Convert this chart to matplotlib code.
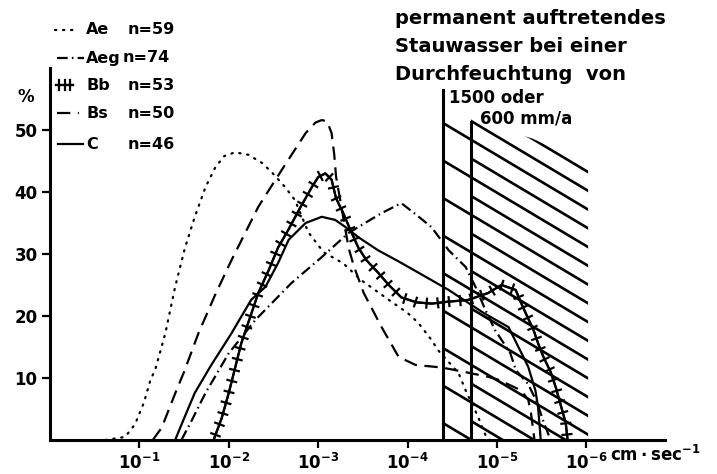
import numpy as np
import matplotlib
matplotlib.use("Agg")
from matplotlib import pyplot as plt
from matplotlib import patheffects
from matplotlib.patches import Polygon

plt.rcParams['font.family'] = 'DejaVu Sans'
plt.rcParams['font.weight'] = 'bold'
plt.rcParams['mathtext.fontset'] = 'dejavusans'
plt.rcParams['mathtext.default'] = 'bf'

# log10 of permeability (cm/sec) and frequency in %
ae_logk = [-0.62, -0.84, -0.95, -1.05, -1.12, -1.18, -1.29, -1.40, -1.51, -1.62, -1.74, -1.85,
           -1.95, -2.07, -2.22, -2.37, -2.48, -2.63, -2.74, -2.89, -3.06, -3.28, -3.48, -3.79,
           -4.00, -4.12, -4.27, -4.34, -4.57, -4.65, -4.79, -4.88, -4.92]
ae_pct = [0, 0.5, 2.5, 6, 9.5, 11.5, 17.2, 24.7, 31, 36, 40.8, 44,
          45.8, 46.4, 46, 44.7, 43.2, 40.8, 38.7, 33.5, 30.3, 28.5, 25.8, 22.6,
          20.5, 18.9, 16.1, 14.5, 10.8, 8, 3.7, 0.5, 0]

aeg_logk = [-1.47, -1.58, -1.66, -1.74, -2.00, -2.30, -2.70, -3.04, -3.34, -3.71, -3.93, -4.10,
            -4.27, -4.46, -4.65, -4.76, -4.87, -4.98, -5.15, -5.21, -5.35, -5.45, -5.52, -5.60]
aeg_pct = [0, 3, 5.3, 7.6, 14, 19.4, 25.3, 29.5, 33.4, 36.6, 38.2, 36.3,
           34.3, 30.6, 27.9, 24.7, 21, 17.7, 14, 11.3, 9, 6, 3, 0]

bb_logk = [-1.83, -1.92, -2.00, -2.14, -2.33, -2.45, -2.55, -2.67, -2.80, -2.93, -3.00, -3.08,
           -3.15, -3.20, -3.28, -3.36, -3.45, -3.54, -3.67, -3.79, -3.93, -4.10, -4.27, -4.45,
           -4.68, -4.90, -5.05, -5.21, -5.27, -5.33, -5.41, -5.46, -5.52, -5.60, -5.66, -5.72,
           -5.77, -5.79]
bb_pct = [0, 3.5, 7.6, 15.6, 23.7, 27.5, 31, 34, 37.5, 40.8, 42.4, 43,
          42, 39, 36.6, 33.9, 31, 29, 27, 25, 23, 22.2, 22, 22.3,
          22.6, 23.7, 25, 24.2, 22.1, 20.2, 17.7, 15.6, 13.4, 11, 8.4, 5.3,
          2.7, 0]

bs_logk = [-1.15, -1.25, -1.40, -1.50, -1.66, -1.85, -2.03, -2.33, -2.59, -2.86, -2.97, -3.04,
           -3.10, -3.15, -3.18, -3.20, -3.26, -3.34, -3.40, -3.51, -3.71, -3.90, -4.09, -4.38,
           -4.63, -4.90, -5.02, -5.27, -5.35, -5.38, -5.42]
bs_pct = [0, 2, 7.5, 11, 17.2, 23.5, 29, 37.6, 43.5, 49.5, 51.2, 51.6,
          51.4, 49.5, 46, 42.5, 37.6, 31, 28, 23.7, 18.2, 13.4, 12.1, 11.7,
          11, 10.2, 9.7, 8, 6.5, 4.4, 0]

c_logk = [-1.40, -1.50, -1.62, -1.80, -2.03, -2.25, -2.41, -2.55, -2.67, -2.86, -3.04, -3.19,
          -3.30, -3.45, -3.67, -3.90, -4.12, -4.46, -4.85, -5.13, -5.24, -5.35, -5.43, -5.46,
          -5.49]
c_pct = [0, 3.5, 7.6, 12, 17.2, 22.6, 24.7, 28.5, 32.3, 35, 36, 35.5,
         34.4, 32.7, 30.6, 28.8, 27, 24.2, 20.5, 18.2, 15, 11.8, 8, 5.3,
         0]

names = ["Ae", "Aeg", "Bb", "Bs", "C"]
counts = ["n=59", "n=74", "n=53", "n=50", "n=46"]
tick_exp = [-1, -2, -3, -4, -5, -6]

# Stauwasser limits (log10 cm/sec) for 1500 and 600 mm/a
limit_1500 = -4.40
limit_600 = -4.71

W, H = 717, 474
fig = plt.figure(figsize=(W / 100, H / 100), dpi=100)
ax = fig.add_axes([50 / W, 34 / H, 615 / W, 372 / H])

lw = 1.6
ticked = [patheffects.withTickedStroke(spacing=8, angle=90, length=0.4),
          patheffects.withTickedStroke(spacing=8, angle=-90, length=0.4)]
styles = [dict(ls=(0, (0.6, 3.0)), dash_capstyle='round'),
          dict(ls=(0, (4.8, 1.9, 0.7, 1.9))),
          dict(ls='-', path_effects=ticked),
          dict(ls=(0, (6, 3.4))),
          dict(ls='-')]
series = [(ae_logk, ae_pct), (aeg_logk, aeg_pct), (bb_logk, bb_pct),
          (bs_logk, bs_pct), (c_logk, c_pct)]

for (lk, pct), st in zip(series, styles):
    ax.plot(10.0 ** np.array(lk), pct, color='k', lw=lw, zorder=3, **st)

# hatched area: permanent Stauwasser
ax.plot([10 ** limit_1500] * 2, [0, 56.5], color='k', lw=2.2, zorder=2)
ax.plot([10 ** limit_600] * 2, [0, 51.3], color='k', lw=2.2, zorder=2)
left_clip = Polygon([(10 ** limit_1500, 0), (10 ** limit_1500, 52), (10 ** limit_600, 52),
                     (10 ** limit_600, 0)], closed=True, transform=ax.transData)
right_clip = Polygon([(10 ** limit_600, 0), (10 ** limit_600, 51.8), (10 ** -5.40, 48.6),
                      (10 ** -6.02, 44.5), (10 ** -6.02, 0)], closed=True, transform=ax.transData)
slope = 8.6
for k in range(-3, 22):
    c0 = 51.1 - 3.025 * k
    ends = np.array([-limit_1500, 6.02])
    yy = c0 - slope * (ends + limit_1500)
    ln, = ax.plot(10.0 ** -ends, yy, color='k', lw=1.9, zorder=2)
    ln.set_clip_path(right_clip)
    if k % 2 == 0:
        ln2, = ax.plot(10.0 ** -ends, yy, color='k', lw=1.9, zorder=2)
        ln2.set_clip_path(left_clip)

ax.set_xscale('log')
ax.set_xlim(1, 10 ** -6.88)
ax.set_ylim(0, 60)
ax.set_xticks([10.0 ** e for e in tick_exp])
ax.set_xticklabels([r'$10^{%d}$' % e for e in tick_exp])
ax.xaxis.set_minor_locator(matplotlib.ticker.NullLocator())
ax.set_yticks([10, 20, 30, 40, 50])
ax.tick_params(axis='both', direction='out', length=6, width=1.6, labelsize=12)
ax.tick_params(axis='y', pad=3)
ax.tick_params(axis='x', pad=3)
for s in ['top', 'right']:
    ax.spines[s].set_visible(False)
for s in ['left', 'bottom']:
    ax.spines[s].set_linewidth(2.2)

def fx(x):
    return x / W

def fy(y):
    return 1 - y / H

fig.text(fx(18), fy(97), '%', fontsize=12, va='center')
fig.text(fx(610), fy(455), r'$cm\cdot sec^{-1}$', fontsize=12, va='center')

# legend drawn by hand
rows = [30, 58, 85, 113, 144]
sample_x = [(55, 76), (57, 84), (56, 73), (57, 79), (58, 83)]
count_x = [128, 123, 128, 128, 128]
for i in range(5):
    st = dict(styles[i])
    if i == 2:
        st['path_effects'] = [patheffects.withTickedStroke(spacing=4, angle=90, length=0.9),
                              patheffects.withTickedStroke(spacing=4, angle=-90, length=0.9)]
    ax.plot([fx(sample_x[i][0]), fx(sample_x[i][1])], [fy(rows[i])] * 2, color='k', lw=lw,
            transform=fig.transFigure, clip_on=False, **st)
    fig.text(fx(86), fy(rows[i]), names[i], fontsize=11.5, va='center')
    fig.text(fx(count_x[i]), fy(rows[i]), counts[i], fontsize=11.5, va='center')

fig.text(fx(395), fy(18), 'permanent auftretendes', fontsize=14, va='center')
fig.text(fx(395), fy(46), 'Stauwasser bei einer', fontsize=14, va='center')
fig.text(fx(395), fy(75), 'Durchfeuchtung  von', fontsize=14, va='center')
fig.text(fx(449), fy(98), '1500 oder', fontsize=12, va='center')
fig.text(fx(480), fy(119), '600 mm/a', fontsize=12, va='center')

fig.savefig('out.png', dpi=100)
